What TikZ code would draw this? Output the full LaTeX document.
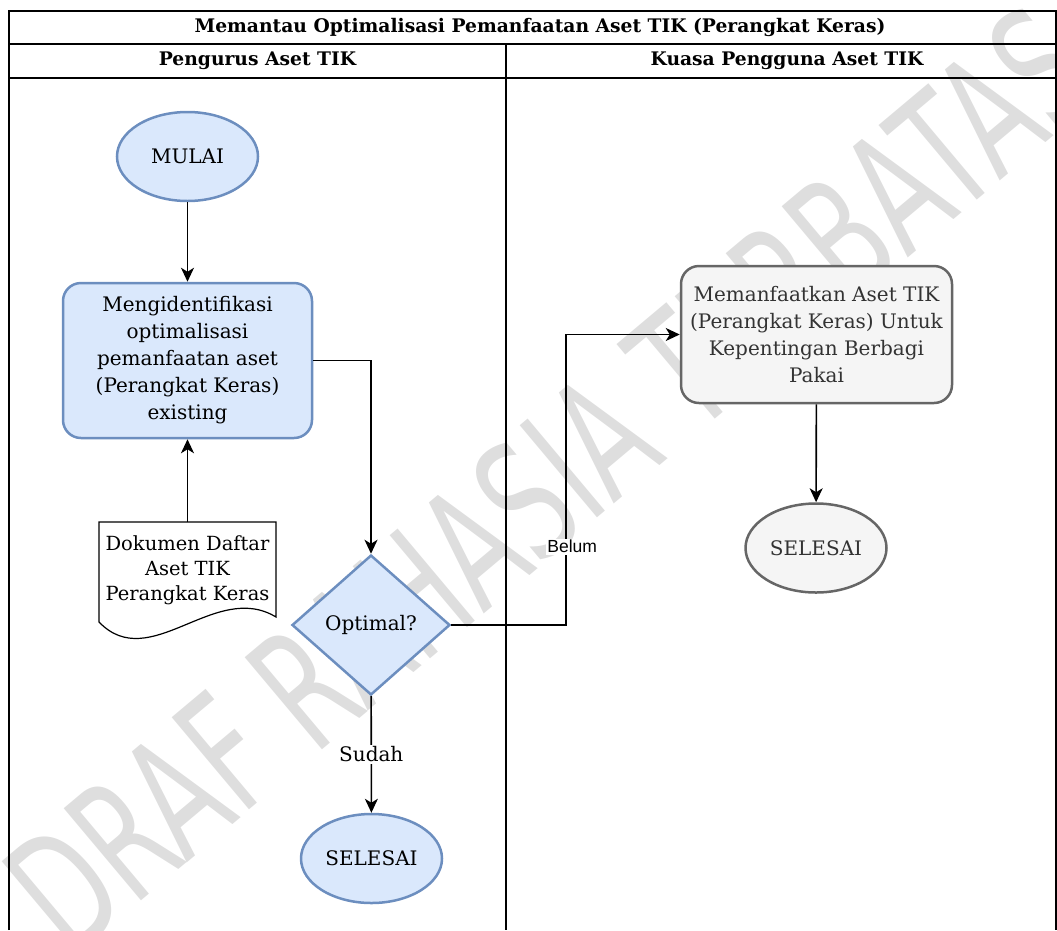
\documentclass[tikz,border=0pt]{standalone}
\usepackage{fontspec}
\setmainfont{DejaVu Serif}
\newfontfamily\labelfont{Liberation Sans}
\newfontfamily\markfont{DejaVu Sans}
\usetikzlibrary{arrows.meta,shapes.geometric}

\definecolor{blueFill}{HTML}{DAE8FC}
\definecolor{blueLine}{HTML}{6C8EBF}
\definecolor{grayFill}{HTML}{F5F5F5}
\definecolor{grayLine}{HTML}{666666}
\definecolor{grayText}{HTML}{333333}
\definecolor{markGray}{HTML}{DEDEDE}

\begin{document}
\begin{tikzpicture}[x=1pt,y=-1pt,>={Stealth[length=14pt,width=13pt,inset=4pt]}]
  \tikzstyle{terminal} = [ellipse, draw=blueLine, fill=blueFill, line width=2.5pt, minimum width=141pt, minimum height=89pt, inner sep=0pt, font={\fontsize{20}{26}\selectfont}]
  \tikzstyle{terminalGray} = [terminal, draw=grayLine, fill=grayFill, text=grayText]
  \tikzstyle{process} = [rectangle, rounded corners=18pt, draw=blueLine, fill=blueFill, line width=2.5pt, align=center, inner sep=0pt, font={\fontsize{20}{27}\selectfont}]
  \tikzstyle{processGray} = [process, draw=grayLine, fill=grayFill, text=grayText]
  \tikzstyle{decision} = [diamond, draw=blueLine, fill=blueFill, line width=2.5pt, minimum width=158pt, minimum height=140pt, inner sep=0pt, font={\fontsize{20}{26}\selectfont}]
  \tikzstyle{docText} = [rectangle, align=center, minimum width=177pt, minimum height=96pt, inner sep=0pt, font={\fontsize{19.5}{25}\selectfont}]
  \tikzstyle{laneText} = [font={\bfseries\fontsize{18.7}{22}\selectfont}]
  \tikzstyle{laneLine} = [black, line width=1.6pt]

  \tikzstyle{flowEdge} = [black, line width=1.6pt, ->];
  \tikzstyle{edgeLabel} = [fill=white, inner sep=1.5pt];

  \useasboundingbox (0,0) rectangle (1057,930);

  % watermark
  \node[rotate=40, text=markGray, font={\markfont\fontsize{165}{165}\selectfont}] (mark) at (550,480) {\scalebox{0.64}[1]{DRAF RAHASIA TERBATAS}};

  % swimlanes
  \draw[laneLine] (9,930) -- (9,11) -- (1056,11) -- (1056,930);
  \draw[laneLine] (9,44) -- (1056,44);
  \draw[laneLine] (9,78) -- (1056,78);
  \draw[laneLine] (506,44) -- (506,930);
  \node[laneText] (title) at (540,27.5) {Memantau Optimalisasi Pemanfaatan Aset TIK (Perangkat Keras)};
  \node[laneText] (laneL) at (257.5,61) {Pengurus Aset TIK};
  \node[laneText] (laneR) at (787,61) {Kuasa Pengguna Aset TIK};

  % document outline
  \filldraw[fill=white, draw=black, line width=1.2pt] (99,522) -- (276,522) -- (276,617) .. controls (215,580) and (150,675) .. (99,622) -- cycle;

  \node[terminal] (A) at (187.5,156.5) {MULAI};
  \node[process, minimum width=249pt, minimum height=155pt] (B) at (187.5,360.5) {Mengidentifikasi\\optimalisasi\\pemanfaatan aset\\(Perangkat Keras)\\existing};
  \node[docText] (C) at (187.5,570) {Dokumen Daftar\\Aset TIK\\Perangkat Keras};
  \node[decision] (D) at (371,625) {Optimal?};
  \node[terminal] (E) at (371.5,858.5) {SELESAI};
  \node[processGray, minimum width=271pt, minimum height=137pt] (F) at (816.5,334.5) {Memanfaatkan Aset TIK\\(Perangkat Keras) Untuk\\Kepentingan Berbagi\\Pakai};
  \node[terminalGray] (G) at (816,548) {SELESAI};

  \path (A) edge[flowEdge] (B)
        (C.north) edge[flowEdge] (B.south)
        (D) edge[flowEdge] node[edgeLabel, font={\fontsize{20}{26}\selectfont}] {Sudah} (E)
        (F) edge[flowEdge] (G);
  \draw[flowEdge] (B.east) -| (D.north);
  \draw[flowEdge] (D.east) -- ++(115,0) |- node[edgeLabel, pos=0.135, xshift=6pt, font={\labelfont\fontsize{17.5}{20}\selectfont}] {Belum} (F.west);
\end{tikzpicture}
\end{document}
